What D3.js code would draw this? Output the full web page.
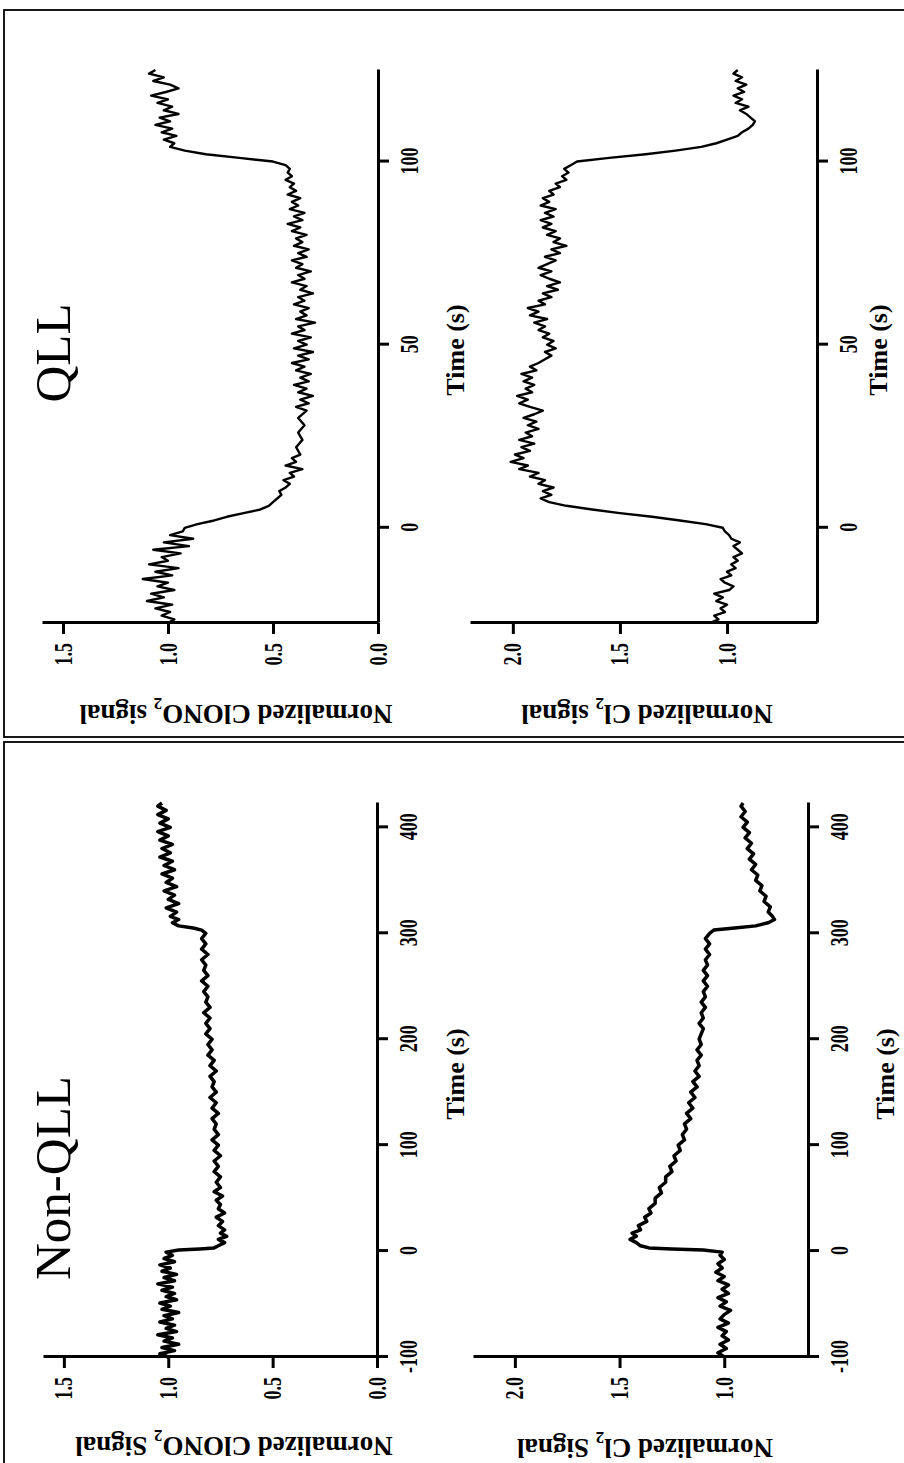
<!DOCTYPE html>
<html>
<head>
<meta charset="utf-8">
<script src="https://cdn.jsdelivr.net/npm/d3@7"></script>
<style>
  body { margin: 0; background: #fff; }
  svg { display: block; }
</style>
</head>
<body>
<div id="figura"></div>
<script>
// Figure is drawn in its original orientation (1463 x 904) and then
// rotated -90 deg to fit the 904 x 1463 page, like the scanned reference.
const W = 904;
const H = 1463;

// ---- Datos: [tiempo (s), senal normalizada] ----
const nonQllClono2 = [
  [-100,1.00],[-97,1.04],[-94,0.97],[-91,1.03],[-88,0.95],[-85,1.02],[-82,0.98],[-79,1.05],
  [-76,0.96],[-73,1.01],[-70,0.97],[-67,1.04],[-64,0.98],[-61,1.02],[-58,0.95],[-55,1.03],
  [-52,0.99],[-49,1.04],[-46,0.96],[-43,1.01],[-40,0.97],[-37,1.03],[-34,0.98],[-31,1.05],
  [-28,0.97],[-25,1.02],[-22,0.96],[-19,1.03],[-16,0.99],[-13,1.04],[-10,0.97],[-7,1.02],
  [-4,0.98],[-1,1.01],[1,0.95],[2,0.85],[3,0.78],[5,0.76],[8,0.73],[11,0.76],[14,0.72],
  [17,0.75],[20,0.73],[24,0.76],[28,0.74],[32,0.77],[36,0.73],[40,0.76],[44,0.75],[48,0.77],
  [52,0.74],[56,0.78],[60,0.75],[65,0.77],[70,0.75],[75,0.78],[80,0.76],[85,0.78],[90,0.75],
  [95,0.78],[100,0.76],[105,0.79],[110,0.76],[115,0.78],[120,0.77],[125,0.79],[130,0.76],
  [135,0.79],[140,0.77],[145,0.80],[150,0.77],[155,0.79],[160,0.78],[165,0.80],[170,0.77],
  [175,0.80],[180,0.78],[185,0.81],[190,0.79],[195,0.81],[200,0.79],[205,0.82],[210,0.80],
  [215,0.82],[220,0.80],[225,0.83],[230,0.80],[235,0.82],[240,0.81],[245,0.83],[250,0.81],
  [255,0.84],[260,0.81],[265,0.83],[270,0.82],[275,0.84],[280,0.81],[285,0.84],[290,0.82],
  [295,0.84],[300,0.82],[303,0.84],[305,0.88],[307,0.95],[310,0.98],[313,0.95],[316,0.99],
  [320,0.96],[324,1.01],[328,0.95],[332,1.00],[336,0.97],[340,1.02],[344,0.96],[348,1.01],
  [352,0.98],[356,1.03],[360,0.97],[364,1.02],[368,0.98],[372,1.04],[376,0.99],[380,1.03],
  [384,0.98],[388,1.04],[392,1.00],[396,1.05],[400,0.99],[404,1.04],[408,1.00],[412,1.05],
  [416,1.01],[420,1.05],[423,1.03]
];

const nonQllCl2 = [
  [-100,1.00],[-96,1.03],[-92,0.99],[-88,1.02],[-84,0.98],[-80,1.01],[-76,0.99],[-72,1.03],
  [-68,0.98],[-64,1.02],[-60,1.00],[-56,0.97],[-52,1.02],[-48,0.99],[-44,1.03],[-40,0.98],
  [-36,1.01],[-32,0.98],[-28,1.03],[-24,1.00],[-20,1.04],[-16,1.01],[-12,1.03],[-8,1.00],
  [-4,1.02],[-1,1.01],[1,1.10],[2,1.25],[3,1.36],[5,1.40],[8,1.42],[11,1.45],[14,1.42],
  [17,1.44],[20,1.40],[24,1.41],[28,1.37],[32,1.38],[36,1.35],[40,1.36],[45,1.33],[50,1.33],
  [55,1.30],[60,1.31],[65,1.28],[70,1.28],[75,1.25],[80,1.26],[85,1.23],[90,1.24],[95,1.21],
  [100,1.22],[105,1.19],[110,1.20],[115,1.18],[120,1.19],[125,1.16],[130,1.18],[135,1.15],
  [140,1.17],[145,1.14],[150,1.16],[155,1.13],[160,1.15],[165,1.12],[170,1.14],[175,1.12],
  [180,1.13],[185,1.11],[190,1.13],[195,1.11],[200,1.12],[210,1.10],[215,1.12],[220,1.10],
  [225,1.11],[230,1.09],[235,1.11],[240,1.09],[245,1.10],[250,1.08],[255,1.10],[260,1.08],
  [265,1.10],[270,1.08],[275,1.09],[280,1.07],[285,1.09],[290,1.07],[295,1.09],[300,1.07],
  [303,1.05],[305,0.95],[307,0.85],[310,0.79],[313,0.76],[316,0.77],[320,0.79],[325,0.78],
  [330,0.81],[335,0.80],[340,0.83],[345,0.82],[350,0.85],[355,0.84],[360,0.87],[365,0.85],
  [370,0.88],[375,0.86],[380,0.89],[385,0.87],[390,0.90],[395,0.88],[400,0.91],[405,0.89],
  [410,0.92],[415,0.90],[420,0.92],[423,0.91]
];

const qllClono2 = [
  [-26,1.00],[-25,0.97],[-24,1.03],[-23,0.99],[-22,1.06],[-21,0.98],[-20,1.10],[-19,1.02],
  [-18,1.08],[-17,0.97],[-16,1.05],[-15,1.00],[-14,1.12],[-13,0.98],[-12,1.06],[-11,0.95],
  [-10,1.09],[-9,1.00],[-8,1.03],[-7,0.94],[-6,1.07],[-5,0.90],[-4,1.02],[-3,0.88],[-2,0.99],
  [-1,0.93],[0,0.92],[1,0.86],[2,0.78],[3,0.72],[4,0.64],[5,0.56],[6,0.52],[7,0.50],[8,0.48],
  [9,0.46],[10,0.47],[11,0.44],[12,0.42],[13,0.45],[14,0.40],[15,0.42],[16,0.36],[17,0.44],
  [18,0.39],[19,0.41],[20,0.37],[22,0.39],[24,0.36],[26,0.38],[28,0.35],[30,0.38],[32,0.34],
  [33,0.39],[34,0.33],[35,0.37],[36,0.31],[37,0.38],[38,0.34],[39,0.40],[40,0.33],[41,0.37],
  [42,0.32],[43,0.39],[44,0.35],[45,0.41],[46,0.33],[47,0.38],[48,0.31],[49,0.40],[50,0.34],
  [51,0.38],[52,0.32],[53,0.41],[54,0.35],[55,0.38],[56,0.30],[57,0.39],[58,0.34],[59,0.37],
  [60,0.33],[61,0.40],[62,0.35],[63,0.38],[64,0.31],[65,0.37],[66,0.34],[67,0.41],[68,0.35],
  [69,0.38],[70,0.32],[71,0.39],[72,0.36],[73,0.41],[74,0.34],[75,0.38],[76,0.33],[77,0.40],
  [78,0.36],[79,0.39],[80,0.34],[81,0.41],[82,0.37],[83,0.43],[84,0.36],[85,0.40],[86,0.35],
  [87,0.42],[88,0.38],[89,0.41],[90,0.37],[91,0.43],[92,0.39],[93,0.42],[94,0.40],[95,0.44],
  [96,0.41],[97,0.43],[98,0.42],[99,0.44],[100,0.50],[101,0.66],[102,0.82],[103,0.92],
  [104,0.99],[105,0.97],[106,1.02],[107,0.96],[108,1.03],[109,0.98],[110,1.06],[111,0.99],
  [112,1.04],[113,0.95],[114,1.02],[115,0.98],[116,1.05],[117,1.00],[118,1.08],[119,1.01],
  [120,0.95],[121,0.99],[122,1.07],[123,1.02],[124,1.09],[125,1.06]
];

const qllCl2 = [
  [-26,1.08],[-25,1.04],[-24,1.06],[-23,1.01],[-22,1.03],[-21,1.00],[-20,1.05],[-19,1.02],
  [-18,1.06],[-17,0.99],[-16,0.97],[-15,1.01],[-14,1.03],[-13,0.98],[-12,1.00],[-11,0.96],
  [-10,0.98],[-9,0.95],[-8,0.97],[-7,0.93],[-6,0.95],[-5,0.97],[-4,0.94],[-3,0.98],[-2,0.99],
  [-1,1.01],[0,1.02],[1,1.10],[2,1.22],[3,1.35],[4,1.50],[5,1.63],[6,1.75],[7,1.83],[8,1.87],
  [9,1.82],[10,1.86],[11,1.81],[12,1.88],[13,1.85],[14,1.92],[15,1.88],[16,1.97],[17,1.93],
  [18,2.01],[19,1.95],[20,1.99],[21,1.92],[22,1.96],[23,1.90],[24,1.97],[25,1.91],[26,1.94],
  [27,1.88],[28,1.93],[29,1.89],[30,1.95],[31,1.90],[32,1.86],[33,1.92],[34,1.97],[35,1.93],
  [36,1.98],[37,1.91],[38,1.94],[39,1.90],[40,1.95],[41,1.91],[42,1.96],[43,1.89],[44,1.92],
  [45,1.88],[46,1.85],[47,1.82],[48,1.85],[49,1.80],[50,1.84],[51,1.81],[52,1.86],[53,1.83],
  [54,1.88],[55,1.85],[56,1.90],[57,1.84],[58,1.92],[59,1.88],[60,1.93],[61,1.85],[62,1.88],
  [63,1.82],[64,1.86],[65,1.79],[66,1.84],[67,1.78],[68,1.83],[69,1.87],[70,1.82],[71,1.88],
  [72,1.84],[73,1.80],[74,1.85],[75,1.78],[76,1.82],[77,1.75],[78,1.81],[79,1.78],[80,1.84],
  [81,1.80],[82,1.86],[83,1.82],[84,1.87],[85,1.81],[86,1.85],[87,1.80],[88,1.87],[89,1.83],
  [90,1.86],[91,1.81],[92,1.83],[93,1.78],[94,1.80],[95,1.75],[96,1.77],[97,1.74],[98,1.76],
  [99,1.73],[100,1.70],[101,1.55],[102,1.38],[103,1.24],[104,1.12],[105,1.05],[106,1.00],
  [107,0.95],[108,0.93],[109,0.90],[110,0.88],[111,0.87],[112,0.89],[113,0.91],[114,0.94],
  [115,0.90],[116,0.96],[117,0.93],[118,0.97],[119,0.92],[120,0.95],[121,0.91],[122,0.96],
  [123,0.93],[124,0.97],[125,0.95]
];

// Marcas de los ejes
const nonQllTimeTicks = [-100, 0, 100, 200, 300, 400];
const qllTimeTicks = [0, 50, 100];
const clono2Ticks = [0, 0.5, 1.0, 1.5];
const cl2Ticks = [1.0, 1.5, 2.0];

const serif = "'Liberation Serif', 'Times New Roman', serif";
const squeeze = 0.72; // tick labels are narrow/condensed in the scan

const svg = d3.select('#figura')
  .append('svg')
  .attr('width', W)
  .attr('height', H);

svg.append('rect').attr('width', W).attr('height', H).attr('fill', '#fff');

// Grupo girado: coordenadas originales (x = tiempo, y = senal)
const fig = svg.append('g')
  .attr('transform', 'translate(0,' + H + ') rotate(-90)');

// Marcos de los dos paneles
fig.append('rect')
  .attr('x', -10).attr('y', 4).attr('width', 731).attr('height', 930)
  .attr('fill', 'none').attr('stroke', '#000').attr('stroke-width', 1.8);
fig.append('rect')
  .attr('x', 726).attr('y', 4).attr('width', 727).attr('height', 930)
  .attr('fill', 'none').attr('stroke', '#000').attr('stroke-width', 1.8);

// Titulos de panel
fig.append('text')
  .attr('x', 285).attr('y', 70)
  .attr('text-anchor', 'middle')
  .style('font-family', serif)
  .style('font-size', '51px')
  .text('Non-QLL');

fig.append('text')
  .attr('x', 1110).attr('y', 70)
  .attr('text-anchor', 'middle')
  .style('font-family', serif)
  .style('font-size', '51px')
  .text('QLL');


function dibujar(o) {
  const x = d3.scaleLinear().domain(o.tDom).range(o.tRange);
  const y = d3.scaleLinear().domain(o.vDom).range(o.vRange);
  const g = fig.append('g');

  // Eje de tiempo
  const ax = g.append('g')
    .attr('transform', 'translate(0,' + o.vRange[0] + ')')
    .call(d3.axisBottom(x).tickValues(o.tTicks).tickFormat(d => String(d))
      .tickSize(11).tickSizeOuter(0).tickPadding(11));

  // Eje de senal
  const ay = g.append('g')
    .attr('transform', 'translate(' + o.tRange[0] + ',0)')
    .call(d3.axisLeft(y).tickValues(o.vTicks).tickFormat(d3.format('.1f'))
      .tickSize(11).tickSizeOuter(0).tickPadding(9));

  [ax, ay].forEach(function (a) {
    a.select('.domain').attr('stroke-width', 3);
    a.selectAll('.tick line').attr('stroke-width', 3);
    a.selectAll('.tick text')
      .style('font-family', serif)
      .style('font-weight', 'bold')
      .style('font-size', '25px')
      .each(function () {
        const t = d3.select(this);
        t.attr('x', (+t.attr('x') || 0) / squeeze)
         .attr('transform', 'scale(' + squeeze + ',1)');
      });
  });

  // Serie
  g.append('path')
    .datum(o.data)
    .attr('fill', 'none')
    .attr('stroke', '#000')
    .attr('stroke-width', o.sw)
    .attr('stroke-linejoin', 'round')
    .attr('d', d3.line().x(d => x(d[0])).y(d => y(d[1])));

  // Titulo del eje de senal
  const yl = g.append('text')
    .attr('transform', 'translate(' + o.vLab[0] + ',' + o.vLab[1] + ') rotate(-90)')
    .attr('text-anchor', 'middle')
    .style('font-family', serif)
    .style('font-weight', 'bold')
    .style('font-size', '27px');
  yl.append('tspan').text(o.vText[0]);
  yl.append('tspan').attr('dy', 7).style('font-size', '17px').text('2');
  yl.append('tspan').attr('dy', -7).text(o.vText[1]);

  // Titulo del eje de tiempo
  g.append('text')
    .attr('x', o.tLab[0]).attr('y', o.tLab[1])
    .attr('text-anchor', 'middle')
    .style('font-family', serif)
    .style('font-weight', 'bold')
    .style('font-size', '26px')
    .text('Time (s)');
}

dibujar({
  data: nonQllClono2, sw: 3.5,
  tDom: [-100, 423], tRange: [106, 660], tTicks: nonQllTimeTicks,
  vDom: [0, 1.6], vRange: [377, 43], vTicks: clono2Ticks,
  vLab: [26, 234], vText: ['Normalized ClONO', ' Signal'],
  tLab: [389, 464]
});

dibujar({
  data: nonQllCl2, sw: 3.5,
  tDom: [-100, 423], tRange: [106, 660], tTicks: nonQllTimeTicks,
  vDom: [0.6, 2.2], vRange: [808, 473], vTicks: cl2Ticks,
  vLab: [24, 645], vText: ['Normalized Cl', ' Signal'],
  tLab: [389, 894]
});

dibujar({
  data: qllClono2, sw: 2.4,
  tDom: [-26, 125], tRange: [840, 1393], tTicks: qllTimeTicks,
  vDom: [0, 1.6], vRange: [378, 42], vTicks: clono2Ticks,
  vLab: [758, 236], vText: ['Normalized ClONO', ' signal'],
  tLab: [1113, 464]
});

dibujar({
  data: qllCl2, sw: 2.4,
  tDom: [-26, 125], tRange: [840, 1393], tTicks: qllTimeTicks,
  vDom: [0.58, 2.2], vRange: [817, 470], vTicks: cl2Ticks,
  vLab: [758, 647], vText: ['Normalized Cl', ' signal'],
  tLab: [1113, 887]
});
</script>
</body>
</html>
